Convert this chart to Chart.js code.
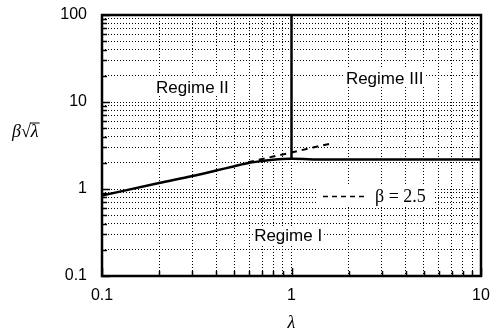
<!DOCTYPE html>
<html><head><meta charset="utf-8">
<script src="https://cdn.jsdelivr.net/npm/chart.js@4/dist/chart.umd.min.js"></script>
<style>html,body{margin:0;padding:0;background:#fff}canvas{display:block}</style>
</head><body>
<canvas id="c" width="497" height="335" style="width:497px;height:335px"></canvas>
<script>
// Data
const curveLambda = [0.1, 0.2, 0.3, 0.4, 0.5, 0.6, 0.7, 0.8, 0.9, 1.0, 1.5, 10];
const curveValue  = [0.84, 1.17, 1.41, 1.63, 1.83, 2.0, 2.1, 2.17, 2.21, 2.22, 2.18, 2.18];
const dashedLambda = [0.59, 0.8, 1.0, 1.3, 1.66];
const dashedValue  = [2.03, 2.36, 2.63, 3.0, 3.38];
const boundaryLambda = [1, 1];
const boundaryValue  = [2.22, 100];
const xDecades = [0.1, 1, 10];
const yDecades = [0.1, 1, 10, 100];
const minorSteps = [1, 2, 3, 4, 5, 6, 7, 8, 9];
const regionLabels = ["Regime I", "Regime II", "Regime III"];
const regionLambda = [0.96, 0.30, 3.1];
const regionValue  = [0.296, 14.9, 18.9];
const legendText = "β = 2.5";

function ticksFor(decades) {
  const out = [];
  for (let i = 0; i < decades.length - 1; i++)
    for (const m of minorSteps) out.push(+(decades[i] * m).toPrecision(3));
  out.push(decades[decades.length - 1]);
  return out;
}
const xTicks = ticksFor(xDecades), yTicks = ticksFor(yDecades);
const toPts = (xs, ys) => xs.map((x, i) => ({x, y: ys[i]}));
const isDecade = v => Math.abs(Math.log10(v) - Math.round(Math.log10(v))) < 1e-6;
const fmt = v => v >= 1 ? String(Math.round(v)) : String(v);
const SANS = '"Liberation Sans", Arial, sans-serif';
const SERIF = '"Liberation Serif", "Times New Roman", serif';

const overlay = {
  id: 'overlay',
  beforeDatasetsDraw(chart) {
    const ctx = chart.ctx, xs = chart.scales.x, ys = chart.scales.y;
    ctx.save();
    ctx.font = '17px ' + SANS;
    ctx.fillStyle = '#fff';
    regionLabels.forEach((t, i) => {
      const w = ctx.measureText(t).width;
      const px = xs.getPixelForValue(regionLambda[i]), py = ys.getPixelForValue(regionValue[i]);
      ctx.fillRect(px - w / 2 - 1, py - 9, w + 2, 18);
    });
    ctx.fillRect(318, 186, 116, 20);
    ctx.restore();
  },
  afterDraw(chart) {
    const ctx = chart.ctx, a = chart.chartArea, xs = chart.scales.x, ys = chart.scales.y;
    ctx.save();
    ctx.strokeStyle = '#000';
    ctx.lineWidth = 1.5;
    xTicks.forEach(v => {
      const px = Math.round(xs.getPixelForValue(v)) + 0.5;
      const len = isDecade(v) ? 8 : 5;
      ctx.beginPath(); ctx.moveTo(px, a.bottom); ctx.lineTo(px, a.bottom - len); ctx.stroke();
    });
    yTicks.forEach(v => {
      const py = Math.round(ys.getPixelForValue(v)) + 0.5;
      const len = isDecade(v) ? 8 : 5;
      ctx.beginPath(); ctx.moveTo(a.left, py); ctx.lineTo(a.left + len, py); ctx.stroke();
    });
    ctx.lineWidth = 2.5;
    ctx.strokeRect(a.left, a.top, a.right - a.left, a.bottom - a.top);
    ctx.fillStyle = '#000';
    ctx.font = '17px ' + SANS;
    ctx.textAlign = 'center'; ctx.textBaseline = 'middle';
    regionLabels.forEach((t, i) => {
      ctx.fillText(t, xs.getPixelForValue(regionLambda[i]), ys.getPixelForValue(regionValue[i]) + 1);
    });
    ctx.lineWidth = 1.5;
    ctx.setLineDash([5, 4]);
    ctx.beginPath(); ctx.moveTo(323, 196.5); ctx.lineTo(366, 196.5); ctx.stroke();
    ctx.setLineDash([]);
    ctx.textAlign = 'left';
    ctx.font = '18px ' + SERIF;
    ctx.fillText(legendText, 375, 197);
    ctx.font = 'italic 18px ' + SERIF;
    ctx.textAlign = 'center';
    ctx.fillText('λ', xs.getPixelForValue(1), 323);
    ctx.textAlign = 'left';
    const tx = 12, ty = 132;
    ctx.fillText('β', tx, ty);
    const wb = ctx.measureText('β').width;
    ctx.font = '18px ' + SERIF;
    ctx.fillText('√', tx + wb, ty);
    const ws = ctx.measureText('√').width;
    ctx.font = 'italic 18px ' + SERIF;
    ctx.fillText('λ', tx + wb + ws, ty);
    const wl = ctx.measureText('λ').width;
    ctx.lineWidth = 1;
    ctx.beginPath(); ctx.moveTo(tx + wb + ws - 1, ty - 9); ctx.lineTo(tx + wb + ws + wl + 1, ty - 9); ctx.stroke();
    ctx.restore();
  }
};

const gridCfg = { color: '#000', lineWidth: 1, drawTicks: false };
new Chart(document.getElementById('c'), {
  type: 'scatter',
  data: {
    datasets: [
      { data: toPts(curveLambda, curveValue), showLine: true, borderColor: '#000', borderWidth: 2.5, pointRadius: 0, cubicInterpolationMode: 'monotone' },
      { data: toPts(dashedLambda, dashedValue), showLine: true, borderColor: '#000', borderWidth: 2, borderDash: [6, 5], pointRadius: 0 },
      { data: toPts(boundaryLambda, boundaryValue), showLine: true, borderColor: '#000', borderWidth: 2.5, pointRadius: 0 }
    ]
  },
  options: {
    responsive: false, maintainAspectRatio: false, animation: false, devicePixelRatio: 1,
    layout: { padding: { top: 15, right: 16, left: 0, bottom: 0 } },
    plugins: { legend: { display: false }, tooltip: { enabled: false } },
    scales: {
      x: {
        type: 'logarithmic', min: 0.1, max: 10,
        grid: gridCfg, border: { display: false, dash: [1, 2] },
        afterBuildTicks: s => { s.ticks = xTicks.map(v => ({ value: v })); },
        afterFit: s => { s.height = 59; s.paddingLeft = 0; s.paddingRight = 0; },
        ticks: { autoSkip: false, maxRotation: 0, padding: 10, color: '#000',
          font: { family: SANS, size: 16 },
          callback: v => isDecade(v) ? fmt(v) : '' }
      },
      y: {
        type: 'logarithmic', min: 0.1, max: 100,
        grid: gridCfg, border: { display: false, dash: [1, 2] },
        afterBuildTicks: s => { s.ticks = yTicks.map(v => ({ value: v })); },
        afterFit: s => { s.width = 102; s.paddingTop = 0; s.paddingBottom = 0; },
        ticks: { autoSkip: false, padding: 15, color: '#000',
          font: { family: SANS, size: 16 },
          callback: v => isDecade(v) ? fmt(v) : '' }
      }
    }
  },
  plugins: [overlay]
});
</script>
</body></html>
